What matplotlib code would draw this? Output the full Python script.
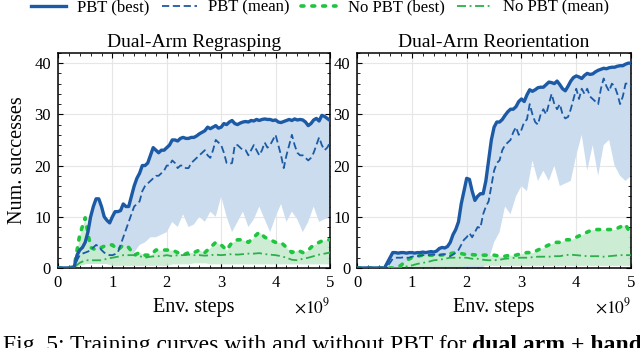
import numpy as np
import matplotlib
matplotlib.use("Agg")
import matplotlib.pyplot as plt
from matplotlib.ticker import MultipleLocator

plt.rcParams['font.family'] = ['Liberation Serif', 'DejaVu Serif']
plt.rcParams['mathtext.fontset'] = 'stix'

# env steps (x1e9), fine grid for PBT curves, coarse grid for the rest
steps_fine = np.linspace(0, 5, 101)
steps = np.linspace(0, 5, 51)

# ---- Dual-Arm Regrasping ----
regrasp_pbt_best = [
    0, 0, 0, 0, 0, 0, 0.3, 2.5, 3.5, 4,
    5, 7, 10, 12, 13.5, 13.5, 12, 10, 9.3, 8.8,
    10, 11, 11, 11.2, 12.5, 12, 12, 14, 16, 17.5,
    18.5, 20, 20, 20.5, 22, 23.5, 23, 22.5, 23, 23,
    23.5, 24, 25, 25, 24.8, 25.3, 25.5, 25.3, 25.3, 25.5,
    25.5, 25.8, 26.2, 26.5, 26.8, 27.5, 27.2, 27.5, 27.8, 27.3,
    27.5, 28.2, 28, 28.5, 28.8, 28.2, 28, 28.3, 28.5, 28.6,
    28.5, 28.8, 28.7, 29, 28.8, 29, 29.1, 29, 29, 28.8,
    28.9, 28.5, 28.4, 28.6, 28.8, 29, 28.8, 29.1, 28.9, 29,
    28.9, 28.5, 27.8, 28.2, 28.9, 29.2, 28.7, 29.8, 29.6, 29.2,
    28.8]
regrasp_pbt_mean = [
    0, 0, 0, 0, 0, 0, 0.3, 1.5, 2.5, 2.8,
    3, 3.2, 3.5, 4, 4.5, 4.2, 3.5, 3, 2.7, 2.5,
    2.5, 2.7, 3, 4.5, 6, 7.5, 9, 10.5, 12, 12.5,
    13, 15, 16, 16.5, 17, 17.5, 18, 18, 18.5, 19,
    20, 20, 21, 20.5, 19.5, 20, 20, 19.5, 19.5, 20.5,
    21, 21.5, 22, 22.5, 23, 22, 21.5, 23, 25, 24.5,
    24, 22.5, 20.5, 20.3, 20.5, 24, 24, 23.5, 23, 23,
    22, 23, 24, 23, 22, 23, 24.5, 23.5, 24, 25,
    26, 24, 22, 19.5, 22, 24, 26, 24, 22.5, 22,
    22, 21.5, 21, 21.5, 22.5, 24, 25.5, 24, 23, 23.5,
    24.5]
regrasp_pbt_low = [
    0, 0, 0, 0, 0.5, 0.8, 0.8, 0.8, 0.8, 0.8,
    1, 1.2, 1.5, 2, 3, 4.5, 5, 6, 6, 6.5,
    7, 9, 8, 10.5, 8, 8.5, 10, 9, 11, 10,
    14, 10, 7, 9, 11, 8, 9.5, 12, 9.5, 7,
    10, 12.5, 9, 11, 9.5, 7, 9, 12, 9, 9.5,
    10]
regrasp_nopbt_best = [
    0, 0, 0, 0.3, 6.5, 9.8, 4, 3.5, 4, 4.5,
    4.5, 3.5, 4.5, 4, 2.5, 3, 2.5, 2.5, 3.5, 3.5,
    3.5, 3.5, 3, 2.5, 3, 3, 3.5, 3, 4, 5,
    4.5, 3.5, 5, 5.5, 5.5, 5, 6, 7, 6, 5.5,
    5, 5, 4, 3, 3.5, 3, 3.5, 4.5, 5, 5.5,
    5.5]
regrasp_nopbt_mean = [
    0, 0, 0, 0.2, 1, 1.5, 1.5, 1.5, 1.5, 1.8,
    2, 2.2, 2.5, 2.5, 2.5, 2.3, 2, 2.2, 2.3, 2.3,
    2.5, 2.3, 2.5, 2.5, 2.6, 2.5, 2.5, 2.4, 2.5, 2.6,
    2.5, 2.6, 2.7, 2.6, 2.7, 2.8, 2.8, 2.9, 2.7, 2.6,
    2.5, 2.3, 2, 1.6, 1.5, 1.8, 2, 2.3, 2.6, 2.8,
    3]
regrasp_nopbt_low = [
    0, 0, 0, 0, 0.5, 0.8, 1, 1, 1, 0.8,
    0.5, 0.5, 0.5, 0.5, 0.5, 0.5, 0.5, 0.5, 0.5, 0.5,
    0.5, 0.8, 0.8, 0.8, 0.8, 1, 1, 1, 0.8, 0.8,
    0.8, 0.8, 0.8, 0.8, 0.8, 0.8, 0.8, 0.8, 0.8, 0.8,
    0.8, 0.8, 0.8, 0.8, 0.8, 0.8, 0.8, 0.8, 0.8, 0.8,
    0.8]

# ---- Dual-Arm Reorientation ----
reorient_pbt_best = [
    0, 0, 0, 0, 0, 0, 0, 0, 0, 0,
    0, 1, 2, 3, 3, 2.9, 3, 3, 2.9, 3,
    3, 2.9, 3, 3, 3.1, 3, 3.1, 3.2, 3.1, 3.3,
    3.8, 4, 3.9, 4.2, 5, 6.5, 7.5, 9, 12.5, 15,
    17.5, 17.3, 15, 13.2, 14, 14.5, 14.5, 17, 21, 25,
    27.5, 28.5, 28.5, 29, 29.8, 30.5, 31, 31, 31.5, 32.5,
    33, 32.5, 33.8, 34.8, 34.5, 34.8, 35.2, 35.3, 35.3, 35.8,
    36.3, 36.2, 36, 36.5, 35.8, 35, 34.6, 35.5, 36.5, 37.2,
    37.5, 37.3, 37, 37.6, 38, 37.8, 37.9, 38.3, 38.6, 38.8,
    39, 38.9, 39.1, 39.2, 39.2, 39.4, 39.5, 39.5, 39.8, 40,
    40]
reorient_pbt_mean = [
    0, 0, 0, 0, 0, 0, 0, 0, 0, 0,
    0, 0.3, 1, 1.8, 2, 2, 2, 2.1, 2, 2,
    2.2, 2.3, 2.3, 2.4, 2.5, 2.5, 2.5, 2.6, 2.6, 2.5,
    2.5, 2.6, 2.7, 2.5, 2.3, 2.6, 3, 3.5, 4.5, 5.5,
    6, 6.8, 6, 7, 8, 7.8, 10.5, 12, 13, 16,
    19, 20.5, 21, 23, 24, 24.5, 25, 26.5, 27.5, 26,
    27, 28.5, 29, 32, 30, 28.5, 28, 30, 31, 30,
    32, 34, 32, 31, 32, 30, 29.2, 29.5, 31, 33,
    35, 33, 35, 34, 35, 33.5, 33, 32.5, 32, 35,
    37, 35.5, 34.5, 36, 35.5, 34, 32, 33.5, 36, 36,
    35.5]
reorient_pbt_low = [
    0, 0, 0, 0, 0, 0, 0, 0, 0, 0,
    0, 0, 0, 0, 0, 0, 0, 0, 0, 0,
    0, 0, 0, 0, 1.5, 5, 7, 12, 10.5, 14,
    16, 15, 21, 17, 19, 17, 20, 16, 16.5, 17,
    22, 26, 19, 24, 18, 24, 25, 20, 18, 17,
    18]
reorient_nopbt_best = [
    0, 0, 0, 0, 0, 0, 0, 0, 0.5, 1.5,
    2, 2.3, 2.5, 2.5, 2.5, 2.5, 2.6, 2.8, 3, 2.8,
    2.6, 2.6, 2.5, 2.5, 2.5, 2.5, 2.3, 2.3, 2.5, 2.5,
    2.8, 3, 3, 3.5, 4, 4.5, 5, 5, 5.5, 5.5,
    6, 6.5, 7, 7.5, 7.5, 7.5, 7.5, 7.5, 8, 8.5,
    6.5]
reorient_nopbt_mean = [
    0, 0, 0, 0, 0, 0, 0, 0, 0, 0.3,
    0.5, 0.8, 1, 1.2, 1.5, 1.6, 1.8, 2, 2, 2,
    2, 1.8, 1.8, 1.6, 1.5, 1.5, 1.6, 1.8, 1.9, 2,
    2, 2, 2.1, 2.2, 2.2, 2.2, 2.3, 2.3, 2.5, 2.6,
    2.5, 2.4, 2.3, 2.3, 2.3, 2.2, 2.3, 2.4, 2.5, 2.5,
    2.5]
reorient_nopbt_low = [
    0, 0, 0, 0, 0, 0, 0, 0, 0, 0,
    0, 0.2, 0.3, 0.3, 0.3, 0.3, 0.3, 0.3, 0.3, 0.3,
    0.5, 0.5, 0.5, 0.5, 0.5, 0.5, 0.5, 0.5, 0.5, 0.5,
    0.5, 0.5, 0.5, 0.5, 0.5, 0.5, 0.5, 0.5, 0.5, 0.5,
    0.5, 0.5, 0.5, 0.5, 0.5, 0.5, 0.5, 0.5, 0.5, 0.5,
    0.5]

titles = ["Dual-Arm Regrasping", "Dual-Arm Reorientation"]
labels = ["PBT (best)", "PBT (mean)", "No PBT (best)", "No PBT (mean)"]

blue = '#1c5aa6'
green = '#1fc43f'
green_line = '#2bb04a'

panels = [
    (regrasp_pbt_best, regrasp_pbt_mean, regrasp_pbt_low,
     regrasp_nopbt_best, regrasp_nopbt_mean, regrasp_nopbt_low),
    (reorient_pbt_best, reorient_pbt_mean, reorient_pbt_low,
     reorient_nopbt_best, reorient_nopbt_mean, reorient_nopbt_low),
]

fig = plt.figure(figsize=(6.4, 3.48), dpi=100)
ax1 = fig.add_axes([0.0906, 0.230, 0.425, 0.618])
ax2 = fig.add_axes([0.558, 0.230, 0.428, 0.618])

for ax, title, data in zip([ax1, ax2], titles, panels):
    best, mean, low, nb, nm, nl = data
    # shaded spread: from the lower run up to the best run
    ax.fill(np.concatenate([steps_fine, steps[::-1]]),
            np.concatenate([best, low[::-1]]),
            color='#cadced', lw=0, zorder=1)
    ax.fill_between(steps, nl, nb, color='#c7eccf', lw=0, alpha=0.9, zorder=1)
    h1, = ax.plot(steps_fine, best, color=blue, lw=2.4, zorder=4)
    h2, = ax.plot(steps_fine, mean, color=blue, lw=1.3, ls=(0, (4, 2)), zorder=4)
    h3, = ax.plot(steps, nb, color=green, lw=2.6, ls=(0, (0.8, 2.2)),
                  dash_capstyle='round', zorder=3)
    h4, = ax.plot(steps, nm, color=green_line, lw=1.3, ls=(0, (5, 2, 1, 2)), zorder=3)

    ax.set_xlim(0, 5)
    ax.set_ylim(0, 42)
    ax.set_title(title, fontsize=14, pad=4)
    ax.set_xlabel('Env. steps', fontsize=14.5, labelpad=5)
    ax.xaxis.set_major_locator(MultipleLocator(1))
    ax.xaxis.set_minor_locator(MultipleLocator(0.2))
    ax.yaxis.set_major_locator(MultipleLocator(10))
    ax.yaxis.set_minor_locator(MultipleLocator(2))
    ax.tick_params(which='both', direction='in', top=True, right=True, labelsize=12)
    ax.tick_params(which='major', length=3.5, width=0.8, pad=5)
    ax.tick_params(which='minor', length=2, width=0.6)
    ax.grid(True, which='major', color='#e6e6e6', lw=0.8, zorder=0)
    ax.set_axisbelow(True)
    for s in ax.spines.values():
        s.set_linewidth(1.1)
    ax.text(1.0, -0.18, r'$\times10^{9}$', transform=ax.transAxes,
            ha='right', va='center', fontsize=12.5)

ax1.set_ylabel('Num. successes', fontsize=14.5, labelpad=5)

fig.legend([h1, h2, h3, h4], labels, loc='upper center', bbox_to_anchor=(0.5, 1.045),
           ncol=4, frameon=False, fontsize=12, handlelength=2.1, columnspacing=0.7,
           handletextpad=0.7)

cap = fig.text(0.004, 1 - 335 / 348, 'Fig. 5: Training curves with and without PBT for ',
               fontsize=17, va='top', ha='left')
ax1.annotate('dual arm + hand', xy=(1, 0), xycoords=cap, va='bottom', ha='left',
             fontsize=17, fontweight='bold', annotation_clip=False)

fig.savefig('out.png', dpi=100)
